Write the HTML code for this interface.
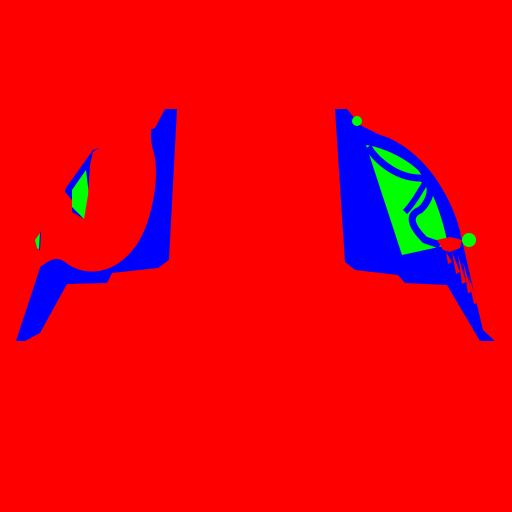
<!DOCTYPE html>
<html><head><style>html,body{margin:0;padding:0;background:#f00}svg{display:block}</style></head>
<body>
<svg width="512" height="512" viewBox="0 0 512 512">
<rect width="512" height="512" fill="#f00"/>
<g>
<path fill="#00f" d="M16,341 L40,268 L38,240 L63,192 L93,150 L155,128 L165,109 L177,109 L169,260 L158,268 L112,273 L107,283 L67,284 L40,333 L25,341 Z"/>
<path fill="#0f0" d="M72,190 L86,170 L89,195 L87,215 L84,219 L72,207 Z"/>
<path fill="#f00" d="M155,112 C150,125 150,140 153,150 C158,165 156,190 152,205 C148,225 140,245 125,258 C110,272 85,278 65,262 C55,255 48,262 40,267 L30,240 L40,232 L60,225 L72,212 L84,219 L88,195 L90,165 L93,152 Z"/>
<path fill="#f00" d="M0,100 L93,100 L92,150 L66,186 L65,192 L72,200 L72,215 L60,235 L45,262 L40,267 L0,267 Z"/>
<path fill="#0f0" d="M40,233 L35,240 L37,248 L40,250 Z"/>
<path fill="#00f" d="M40,232 L41,232 L40,250 L39,250 Z"/>
</g>
<g>
<path fill="#00f" d="M335,109 L347,109 L360,125 L380,135 C400,140 425,160 440,185 C452,205 458,220 462,240 L470,275 L483,330 L495,341 L480,341 L447,285 L405,283 L398,275 L355,270 L345,262 Z"/>
<path fill="#0f0" d="M366,145 C385,148 405,158 418,170 C432,188 442,215 448,245 L402,255 Z"/>
<path fill="none" stroke="#00f" stroke-width="7" d="M368,147 C380,165 400,178 420,178 C435,180 432,200 420,210 C408,215 410,225 425,240 L440,245"/>
<path fill="none" stroke="#00f" stroke-width="6" d="M428,178 C418,195 412,205 405,212"/>
<circle cx="357" cy="121" r="5" fill="#0f0"/>
<circle cx="469" cy="240" r="7" fill="#0f0"/>
<path fill="#f00" d="M437,240 L450,237 L462,240 L460,248 L450,252 L443,250 Z"/>
<path fill="#f00" d="M446,252 L452,262 L448,264 Z M452,252 L460,272 L456,274 Z M458,255 L466,282 L462,284 Z M463,262 L472,292 L468,293 Z M468,275 L478,303 L474,304 Z"/>
</g>
</svg>
</body></html>
